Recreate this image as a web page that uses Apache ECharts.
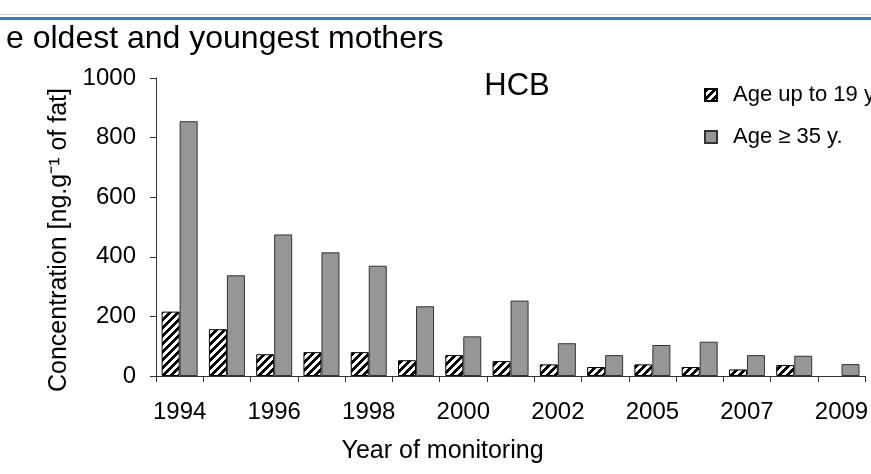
<!DOCTYPE html>
<html>
<head>
<meta charset="utf-8">
<script src="https://cdn.jsdelivr.net/npm/echarts@6/dist/echarts.min.js"></script>
<style>
  html, body { margin: 0; padding: 0; background: #fff; }
  #chart { width: 871px; height: 474px; }
</style>
</head>
<body>
<div id="chart"></div>
<script>
// data
const years = ['1994', '1995', '1996', '1997', '1998', '1999', '2000', '2001',
  '2002', '2004', '2005', '2006', '2007', '2008', '2009'];
const youngMothers = [216, 157, 73, 80, 80, 53, 70, 50, 39, 30, 39, 30, 22, 37, null];
const oldMothers = [855, 338, 475, 415, 370, 234, 133, 253, 110, 70, 104, 115, 70, 68, 40];
const yTicks = { min: 0, max: 1000, interval: 200 };

const FONT = '"Liberation Sans", Arial, sans-serif';

// hatch pattern for the young mothers bars
const makeHatch = () => {
  const c = document.createElement('canvas');
  c.width = 8;
  c.height = 8;
  const ctx = c.getContext('2d');
  ctx.fillStyle = '#fff';
  ctx.fillRect(0, 0, 8, 8);
  ctx.fillStyle = '#000';
  for (let x = 0; x < 8; x++) {
    for (let y = 0; y < 8; y++) {
      if ((x + y) % 8 < 4) ctx.fillRect(x, y, 1, 1);
    }
  }
  return c;
};

const chart = echarts.init(document.getElementById('chart'));

const option = {
  animation: false,
  textStyle: { fontFamily: FONT, color: '#000' },
  graphic: [
    { type: 'rect', shape: { x: 0, y: 14, width: 871, height: 1 }, style: { fill: '#d0d0d0' } },
    { type: 'rect', shape: { x: 0, y: 17, width: 871, height: 3 }, style: { fill: '#2a7dc4' } }
  ],
  title: [
    {
      text: 'e oldest and youngest mothers',
      left: 1,
      top: 18,
      textStyle: { fontFamily: FONT, fontSize: 32, fontWeight: 'normal', color: '#000' }
    },
    {
      text: 'HCB',
      left: 512,
      textAlign: 'center',
      top: 66,
      textStyle: { fontFamily: FONT, fontSize: 31, fontWeight: 'normal', color: '#000' }
    }
  ],
  legend: {
    orient: 'vertical',
    left: 699,
    top: 79,
    itemWidth: 12,
    itemHeight: 12,
    itemGap: 20,
    icon: 'rect',
    data: ['Age up to 19 y.', 'Age ≥ 35 y.'],
    textStyle: { fontFamily: FONT, fontSize: 22, color: '#000', padding: [0, 0, 0, 11] }
  },
  grid: { left: 156, top: 78, right: 0, bottom: 98 },
  xAxis: {
    type: 'category',
    data: years,
    name: 'Year of monitoring',
    nameLocation: 'middle',
    nameGap: 63,
    nameTextStyle: { fontFamily: FONT, fontSize: 25, color: '#000', padding: [0, 136, 0, 0] },
    axisLine: { lineStyle: { color: '#333', width: 1 } },
    axisTick: { show: true, interval: 0, length: 6, lineStyle: { color: '#333' } },
    axisLabel: { interval: 1, margin: 24, fontSize: 24, color: '#000', fontFamily: FONT }
  },
  yAxis: {
    type: 'value',
    min: yTicks.min,
    max: yTicks.max,
    interval: yTicks.interval,
    name: 'Concentration [ng.g⁻¹ of fat]',
    nameLocation: 'middle',
    nameGap: 74,
    nameTextStyle: { fontFamily: FONT, fontSize: 25, color: '#000', padding: [0, 26, 0, 0] },
    axisLine: { show: true, lineStyle: { color: '#333', width: 1 } },
    axisTick: { show: true, length: 6, lineStyle: { color: '#333' } },
    splitLine: { show: false },
    axisLabel: {
      margin: 20,
      fontSize: 24,
      color: '#000',
      fontFamily: FONT,
      formatter: (v) => String(v)
    }
  },
  series: [
    {
      name: 'Age up to 19 y.',
      type: 'bar',
      data: youngMothers,
      barWidth: 18,
      barGap: '0%',
      itemStyle: {
        color: { image: makeHatch(), repeat: 'repeat' },
        borderColor: '#000',
        borderWidth: 1
      }
    },
    {
      name: 'Age ≥ 35 y.',
      type: 'bar',
      data: oldMothers,
      barWidth: 18,
      barGap: '0%',
      itemStyle: {
        color: '#969696',
        borderColor: '#333',
        borderWidth: 1
      }
    }
  ]
};

chart.setOption(option);
</script>
</body>
</html>
